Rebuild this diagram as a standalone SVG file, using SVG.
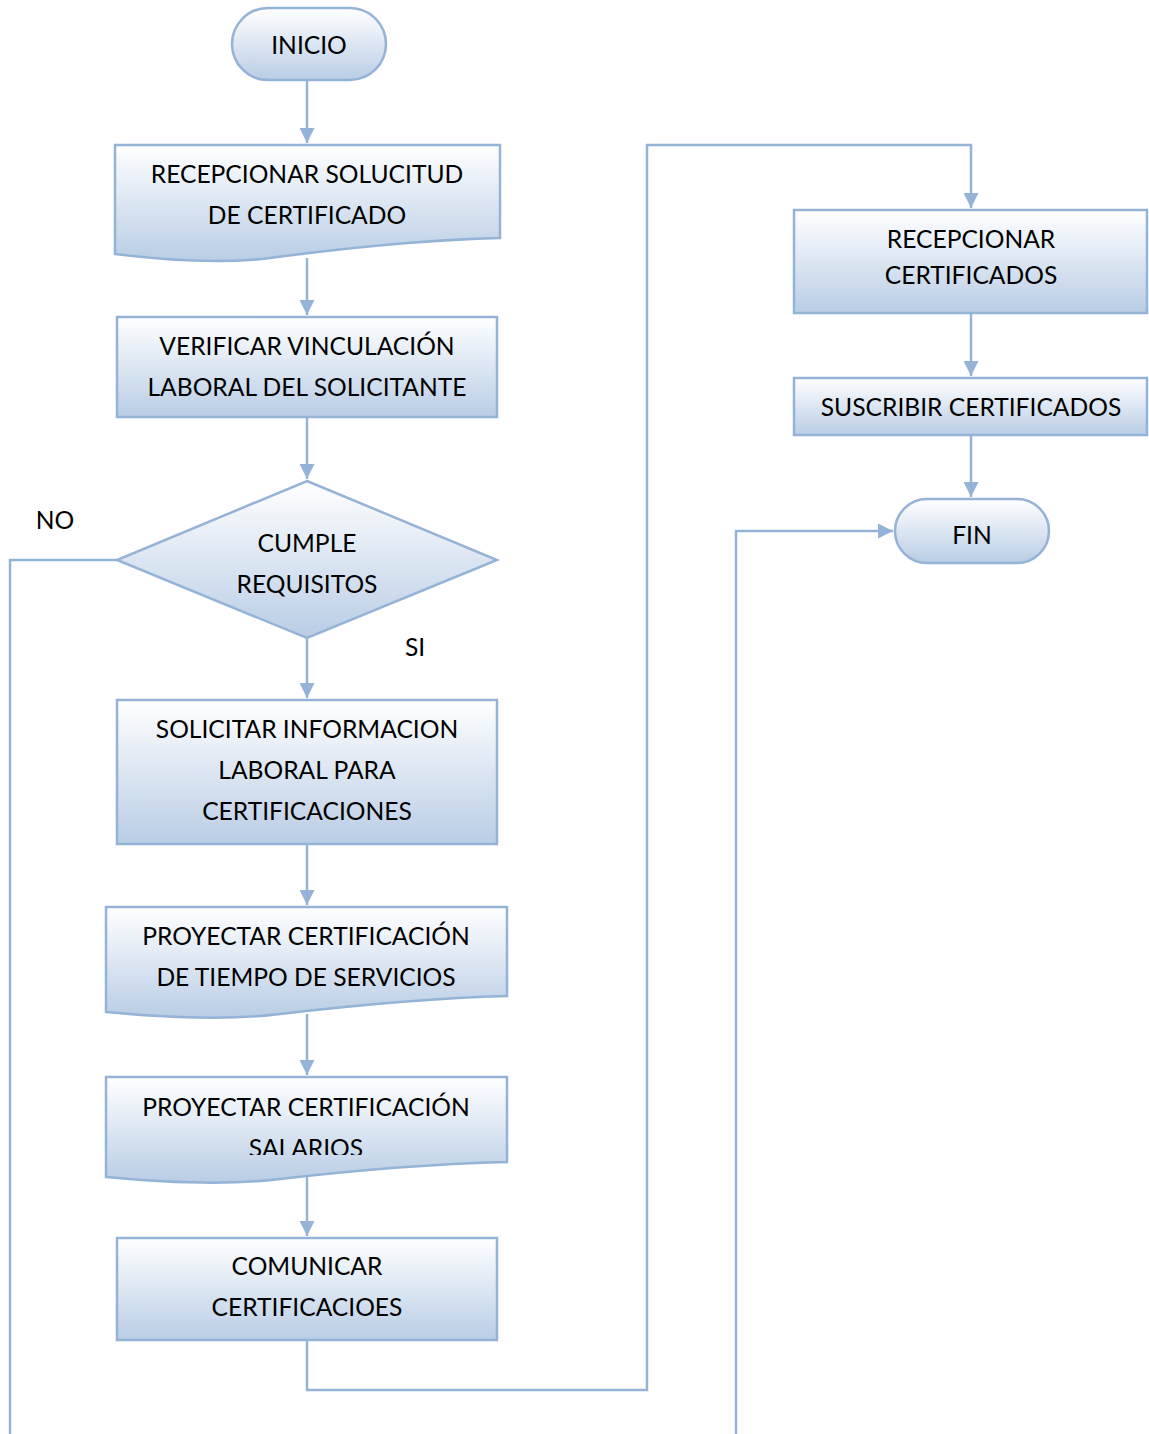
<svg xmlns="http://www.w3.org/2000/svg" width="1149" height="1434" viewBox="0 0 1149 1434">
<defs>
<linearGradient id="fillGrad" x1="0" y1="0" x2="0" y2="1">
<stop offset="0" stop-color="#ffffff"/>
<stop offset="1" stop-color="#b9cde5"/>
</linearGradient>
<marker id="arrow" viewBox="0 0 10 10" refX="10" refY="5" markerWidth="6.4" markerHeight="6" markerUnits="strokeWidth" orient="auto">
<path d="M0,0 L10,5 L0,10 Z" fill="#95b3d7"/>
</marker>
<clipPath id="clipSalarios"><rect x="106" y="1077" width="401" height="78"/></clipPath>
</defs>
<style>
.shape{fill:url(#fillGrad);stroke:#95b3d7;stroke-width:2.5}
.conn{fill:none;stroke:#95b3d7;stroke-width:2.5}
.lbl{font-family:Lato,"Open Sans","Liberation Sans",sans-serif;font-size:24.6px;fill:#000;text-anchor:middle}
</style>
<rect width="1149" height="1434" fill="#ffffff"/>

<g id="connectors">
<path class="conn" d="M307,80 V143" marker-end="url(#arrow)"/>
<path class="conn" d="M307,258 V315" marker-end="url(#arrow)"/>
<path class="conn" d="M307,417 V479" marker-end="url(#arrow)"/>
<path class="conn" d="M307,638 V698" marker-end="url(#arrow)"/>
<path class="conn" d="M307,844 V905" marker-end="url(#arrow)"/>
<path class="conn" d="M307,1014 V1075" marker-end="url(#arrow)"/>
<path class="conn" d="M307,1177 V1236" marker-end="url(#arrow)"/>
<path class="conn" d="M307,1340 V1390 H647 V145 H971 V208" marker-end="url(#arrow)"/>
<path class="conn" d="M971,313 V376" marker-end="url(#arrow)"/>
<path class="conn" d="M971,435 V497" marker-end="url(#arrow)"/>
<path class="conn" d="M117,560 H10 V1434"/>
<path class="conn" d="M736,1434 V531 H893" marker-end="url(#arrow)"/>
</g>

<g id="inicio">
<rect class="shape" x="232" y="8" width="154" height="72" rx="36" ry="36"/>
<text class="lbl" x="309" y="54">INICIO</text>
</g>

<g id="recepcionar-solicitud">
<path class="shape" d="M115,145 H500 V238 C420,240 330,250 270,258 C230,263 180,262 115,254 Z"/>
<text class="lbl" x="307" y="183">RECEPCIONAR SOLUCITUD</text>
<text class="lbl" x="307" y="224">DE CERTIFICADO</text>
</g>

<g id="verificar">
<rect class="shape" x="117" y="317" width="380" height="100"/>
<text class="lbl" x="307" y="355">VERIFICAR VINCULACIÓN</text>
<text class="lbl" x="307" y="396">LABORAL DEL SOLICITANTE</text>
</g>

<g id="cumple">
<path class="shape" d="M307,481 L497,560 L307,638 L117,560 Z"/>
<text class="lbl" x="307" y="552">CUMPLE</text>
<text class="lbl" x="307" y="593">REQUISITOS</text>
</g>

<g id="labels">
<text class="lbl" x="55" y="529">NO</text>
<text class="lbl" x="415" y="656">SI</text>
</g>

<g id="solicitar">
<rect class="shape" x="117" y="700" width="380" height="144"/>
<text class="lbl" x="307" y="738">SOLICITAR INFORMACION</text>
<text class="lbl" x="307" y="779">LABORAL PARA</text>
<text class="lbl" x="307" y="820">CERTIFICACIONES</text>
</g>

<g id="proyectar-tiempo">
<path class="shape" d="M106,907 H507 V996 C430,998 340,1007 280,1014 C240,1019 180,1019 106,1012 Z"/>
<text class="lbl" x="306" y="945">PROYECTAR CERTIFICACIÓN</text>
<text class="lbl" x="306" y="986">DE TIEMPO DE SERVICIOS</text>
</g>

<g id="proyectar-salarios">
<path class="shape" d="M106,1077 H507 V1162 C430,1164 340,1172 280,1179 C240,1184 180,1184 106,1177 Z"/>
<text class="lbl" x="306" y="1116">PROYECTAR CERTIFICACIÓN</text>
<text class="lbl" x="306" y="1157" clip-path="url(#clipSalarios)">SALARIOS</text>
</g>

<g id="comunicar">
<rect class="shape" x="117" y="1238" width="380" height="102"/>
<text class="lbl" x="307" y="1275">COMUNICAR</text>
<text class="lbl" x="307" y="1316">CERTIFICACIOES</text>
</g>

<g id="recepcionar-certificados">
<rect class="shape" x="794" y="210" width="353" height="103"/>
<text class="lbl" x="971" y="248">RECEPCIONAR</text>
<text class="lbl" x="971" y="284">CERTIFICADOS</text>
</g>

<g id="suscribir">
<rect class="shape" x="794" y="378" width="353" height="57"/>
<text class="lbl" x="971" y="416">SUSCRIBIR CERTIFICADOS</text>
</g>

<g id="fin">
<rect class="shape" x="895" y="499" width="154" height="64" rx="32" ry="32"/>
<text class="lbl" x="972" y="544">FIN</text>
</g>
</svg>
